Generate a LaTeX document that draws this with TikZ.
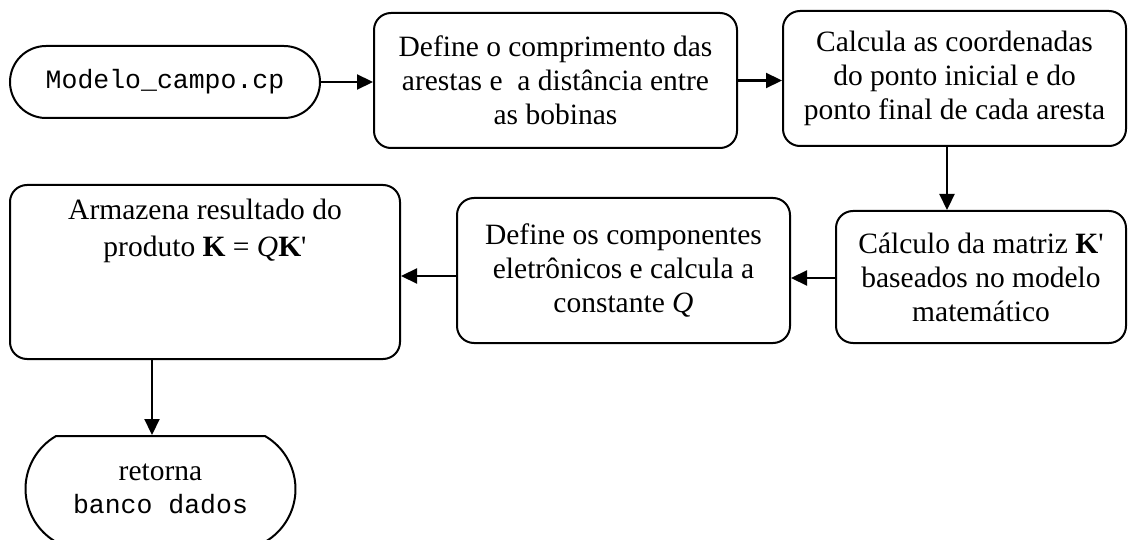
\documentclass[tikz,border=0pt]{standalone}
\usepackage{fontspec}
\setmainfont{Liberation Serif}
\setmonofont{Liberation Mono}
\usetikzlibrary{arrows.meta,shapes.misc}
\tikzset{
  box/.style={draw, line width=2pt, rounded corners=17pt, align=center,
    font=\fontsize{29.5}{34}\selectfont, inner sep=0pt},
  term/.style={draw, line width=2pt, rounded rectangle, align=center, inner sep=0pt},
  arr/.style={line width=2.2pt, -{Triangle[length=16pt,width=15pt]}}
}
\begin{document}
\begin{tikzpicture}[x=1pt,y=-1pt]
\useasboundingbox (0,0) rectangle (1128,540);
\node[term, rounded rectangle arc length=180, minimum width=310pt, minimum height=72pt,
  font=\fontsize{26.5}{32}\ttfamily] (start) at (165,82) {Modelo\_campo.cp};
\node[box, minimum width=363pt, minimum height=135pt] (b1) at (555.5,80.5)
  {Define o comprimento das\\arestas e~\ a distância entre\\as bobinas};
\node[box, minimum width=343pt, minimum height=135pt] (b2) at (954.5,78.5)
  {Calcula as coordenadas\\do ponto inicial e do\\ponto final de cada aresta};
\node[box, minimum width=290pt, minimum height=132pt] (b3) at (981,277)
  {Cálculo da matriz \textbf{K}\textquotesingle\\baseados no modelo\\matemático};
\node[box, minimum width=333pt, minimum height=145pt] (b4) at (623.5,270.5)
  {Define os componentes\\eletrônicos e calcula a\\constante \textit{Q}};
\node[box, minimum width=390pt, minimum height=174pt] (b5) at (205,272) {};
\node[font=\fontsize{29.5}{37}\selectfont, align=center, anchor=north] (t5) at (205,195)
  {Armazena resultado do\\produto \textbf{K} = \textit{Q}\textbf{K}\textquotesingle};
\node[term, rounded rectangle arc length=120, minimum width=270pt, minimum height=106pt,
  font=\fontsize{29.5}{33}\selectfont] (end) at (160.5,489)
  {retorna\\{\fontsize{26.5}{33}\ttfamily banco dados}};
\draw[arr] (start.east) -- (start.east -| b1.west);
\draw[arr] (b1.east) -- (b1.east -| b2.west);
\draw[arr] ([xshift=-7.5pt]b2.south) -- ([xshift=-7.5pt]b2.south |- b3.north);
\draw[arr] ([yshift=-1pt]b3.west) -- ([yshift=-1pt]b3.west -| b4.east);
\draw[arr] ([yshift=-5.5pt]b4.west) -- ([yshift=-5.5pt]b4.west -| b5.east);
\draw[arr] ([xshift=-53pt]b5.south) -- ([xshift=-53pt]b5.south |- end.north);
\end{tikzpicture}
\end{document}
